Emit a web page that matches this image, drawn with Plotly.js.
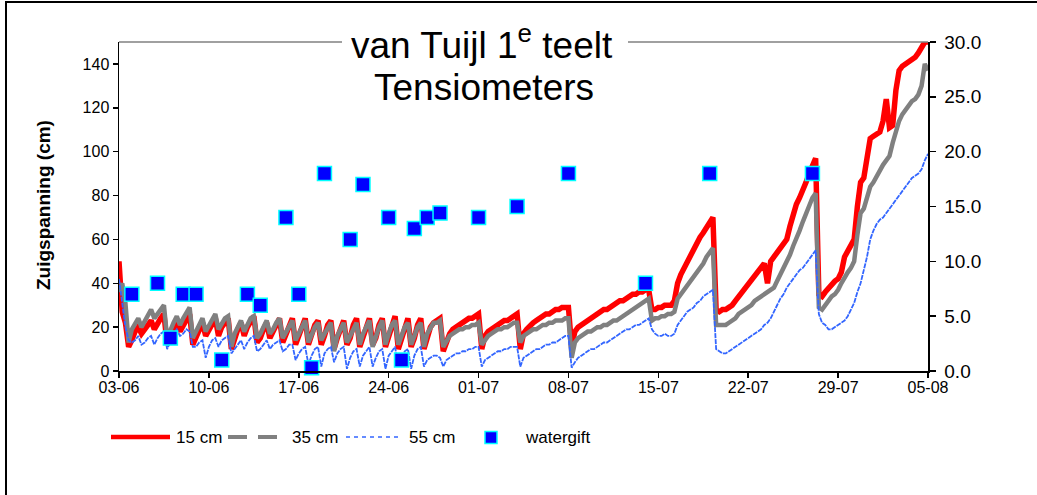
<!DOCTYPE html>
<html>
<head>
<meta charset="utf-8">
<script src="https://cdn.plot.ly/plotly-3.0.1.min.js"></script>
<style>
  html, body { margin: 0; padding: 0; background: #fff; }
  #wrap { position: relative; width: 1037px; height: 495px; overflow: hidden; }
  #chart { position: absolute; left: 0; top: 0; width: 1037px; height: 495px; }
  #frame { position: absolute; left: 5px; top: 1px; width: 1100px; height: 600px;
           border-left: 2px solid #000; border-top: 2px solid #000; pointer-events: none; }
</style>
</head>
<body>
<div id="wrap">
  <div id="chart"></div>
  <div id="frame"></div>
</div>
<script>
// Tensiometer readings (cm suction), one reading every 6 hours from 3 June 00:00
const cm15 = [
  50, 27, 22, 11,  14, 18, 20, 17,  19, 21, 23, 19,  22, 24, 26, 12,
  16, 19, 22, 18,  21, 24, 26, 12,  15, 19, 22, 16,  19, 22, 24, 16,
  20, 22, 24, 10,  15, 19, 22, 16,  20, 23, 25, 13,  15, 19, 22, 15,
  18, 22, 24, 13,  17, 21, 24, 12,  16, 20, 24, 12,  16, 21, 23, 12,
  16, 21, 23, 10,  15, 20, 23, 12,  15, 21, 24, 11,  16, 21, 24, 12,
  15, 21, 24, 11,  16, 22, 25, 10,  15, 21, 24, 11,  15, 21, 24, 10,
  16, 20, 22, 23,  24, 9, 14, 17,   19, 20, 21, 22,  23, 24, 24, 25,
  26, 10, 16, 18,  19, 20, 21, 22,  23, 23, 24, 25,  26, 10, 17, 19,
  21, 22, 23, 24,  25, 26, 26, 27,  28, 28, 29, 29,  29, 11, 18, 20,
  21, 22, 23, 24,  25, 26, 27, 28,  28, 29, 30, 31,  32, 32, 33, 34,
  35, 35, 36, 36,  37, 37, 28, 28,  29, 29, 30, 30,  30, 32, 40, 44,
  47, 50, 52, 55,  58, 61, 63, 65,  68, 70, 28, 27,  28, 28, 29, 30,
  32, 34, 36, 38,  40, 42, 44, 46,  47, 49, 40, 50,  52, 54, 56, 58,
  60, 66, 72, 76,  79, 82, 86, 90,  94, 97, 35, 34,  36, 38, 40, 41,
  42, 45, 52, 55,  58, 60, 75, 86,  88, 98, 106, 107, 108, 109, 114, 124,
  111, 112, 128, 137, 139, 140, 141, 142, 143, 145, 148, 150, 150
];
const cm35 = [
  36, 40, 31, 13,  19, 22, 24, 20,  23, 26, 28, 24,  26, 28, 30, 15,
  19, 22, 25, 21,  24, 27, 29, 15,  18, 21, 24, 18,  21, 24, 26, 19,
  22, 24, 25, 11,  17, 20, 23, 18,  21, 24, 25, 15,  17, 20, 23, 17,
  19, 22, 24, 15,  18, 21, 23, 14,  17, 20, 23, 13,  17, 20, 22, 14,
  17, 20, 22, 9,   16, 19, 22, 13,  16, 20, 22, 12,  17, 20, 23, 11,
  16, 20, 23, 12,  17, 21, 23, 12,  16, 20, 22, 12,  16, 20, 22, 11,
  17, 20, 22, 22,  23, 11, 14, 16,  17, 18, 19, 19,  20, 20, 21, 21,
  22, 12, 14, 16,  17, 18, 19, 19,  20, 20, 21, 22,  22, 13, 16, 17,
  18, 19, 19, 20,  21, 21, 22, 22,  23, 23, 23, 24,  24, 6, 13, 15,
  16, 17, 18, 18,  19, 20, 20, 21,  21, 22, 23, 23,  24, 25, 26, 27,
  28, 29, 30, 31,  32, 33, 23, 24,  24, 25, 25, 26,  26, 27, 33, 35,
  37, 39, 41, 43,  45, 47, 49, 52,  54, 56, 21, 21,  21, 21, 22, 23,
  24, 26, 27, 28,  29, 30, 32, 33,  34, 35, 36, 37,  38, 41, 44, 46,
  49, 53, 57, 60,  64, 68, 72, 76,  79, 81, 29, 28,  30, 32, 34, 35,
  37, 40, 43, 45,  47, 50, 62, 72,  74, 80, 84, 86,  89, 92, 94, 96,
  98, 104, 110, 114, 117, 119, 121, 123, 124, 126, 130, 140, 137
];
const cm55 = [
  42, 30, 20, 14,  13, 14, 16, 12,  13, 15, 16, 12,  15, 17, 18, 10,
  14, 17, 19, 16,  17, 19, 18, 11,  11, 13, 14, 6,   11, 14, 15, 11,
  14, 15, 16, 8,   10, 12, 14, 10,  13, 15, 16, 9,   10, 12, 14, 10,
  12, 13, 14, 9,   10, 12, 12, 5,   8, 10, 11, 3,    7, 10, 11, 2,
  8, 10, 11, 4,    8, 10, 11, 1,    6, 9, 10, 2,     7, 9, 11, 2,
  6, 9, 10, 1,     7, 9, 11, 2,     6, 9, 10, 1,     7, 10, 11, 2,
  5, 6, 7, 7,      6, 2, 5, 6,      7, 8, 8, 9,      9, 10, 10, 11,
  11, 2, 5, 6,     7, 8, 9, 9,      10, 10, 11, 11,  11, 2, 6, 7,
  8, 9, 10, 10,    11, 12, 12, 13,  13, 14, 15, 16,  16, 1.5, 4, 6,
  7, 8, 9, 10,     10, 11, 12, 13,  13, 14, 15, 16,  17, 18, 19, 19,
  20, 21, 21, 22,  23, 24, 19, 17,  16, 16, 17, 16,  16, 17, 21, 23,
  25, 27, 28, 29,  31, 32, 34, 35,  36, 37, 10, 9,   8, 8, 9, 10,
  11, 12, 13, 14,  15, 16, 17, 18,  19, 21, 22, 24,  27, 30, 33, 35,
  38, 40, 42, 44,  46, 47, 49, 51,  53, 55, 26, 22,  21, 19, 19, 20,
  21, 22, 23, 25,  28, 31, 36, 40,  46, 52, 60, 64,  67, 69, 70, 72,
  74, 76, 78, 80,  82, 84, 86, 88,  89, 90, 92, 96,  99
];

// Irrigation events: day number counted from 3 June, amount on the right axis
const watergiftDag = [1, 3, 4, 5, 6, 8, 10, 11, 13, 14, 15, 16, 18, 19, 21, 22, 23, 24, 25, 28, 31, 35, 41, 46, 54];
const watergift    = [7, 8, 3, 7, 7, 1, 7, 6, 14, 7, 0.3, 18, 12, 17, 14, 1, 13, 14, 14.4, 14, 15, 18, 8, 18, 18];

// Weekly date labels (dd-mm)
const tickLabels = ['03-06', '10-06', '17-06', '24-06', '01-07', '08-07', '15-07', '22-07', '29-07', '05-08'];

const READINGS_PER_DAY = 4;
const tijd = cm15.map((_, i) => i / READINGS_PER_DAY);
const tickVals = tickLabels.map((_, i) => i * 7);

const FONT = 'Arial, "Liberation Sans", sans-serif';

const traces = [
  { x: tijd, y: cm15, type: 'scatter', mode: 'lines', name: '15 cm',
    line: { color: '#ff0000', width: 5.5 }, hoverinfo: 'skip' },
  { x: tijd, y: cm35, type: 'scatter', mode: 'lines', name: '35 cm',
    line: { color: '#808080', width: 4.5 }, hoverinfo: 'skip' },
  { x: tijd, y: cm55, type: 'scatter', mode: 'lines', name: '55 cm',
    line: { color: '#3366ff', width: 1.8, dash: '5px,1px' }, hoverinfo: 'skip' },
  { x: watergiftDag, y: watergift, yaxis: 'y2', type: 'scatter', mode: 'markers', name: 'watergift',
    marker: { symbol: 'square', size: 14, color: '#0000ff', line: { color: '#00ffff', width: 1.5 } },
    cliponaxis: false }
];

// plot area: x 119..928 px, y 42..371 px
const PL = 119, PR = 928, PT = 42, PB = 371;
const px = v => (v - PL) / (PR - PL);
const py = v => (PB - v) / (PB - PT);

const legendY = py(437);
const shapes = [
  // upper frame of the plot area, open where the title sits
  { type: 'line', xref: 'paper', yref: 'paper', x0: 0, x1: px(342), y0: 1, y1: 1,
    line: { color: '#808080', width: 1.5 } },
  { type: 'line', xref: 'paper', yref: 'paper', x0: px(628), x1: 1, y0: 1, y1: 1,
    line: { color: '#808080', width: 1.5 } },
  // legend keys
  { type: 'line', xref: 'paper', yref: 'paper', x0: px(111), x1: px(170), y0: legendY, y1: legendY,
    line: { color: '#ff0000', width: 4.5 } },
  { type: 'line', xref: 'paper', yref: 'paper', x0: px(228), x1: px(277), y0: legendY, y1: legendY,
    line: { color: '#808080', width: 4, dash: '19px,11px' } },
  { type: 'line', xref: 'paper', yref: 'paper', x0: px(346), x1: px(400), y0: legendY, y1: legendY,
    line: { color: '#3366ff', width: 1.5, dash: '4px,4px' } },
  { type: 'rect', xref: 'paper', yref: 'paper', x0: px(485), x1: px(497), y0: py(443.5), y1: py(431.5),
    fillcolor: '#0000ff', line: { color: '#00ffff', width: 1.5 } }
];

const legendText = (x, text) => ({
  xref: 'paper', yref: 'paper', x: px(x), y: legendY, xanchor: 'left', yanchor: 'middle',
  text: text, showarrow: false, font: { family: FONT, size: 17, color: '#000' }
});

const annotations = [
  { xref: 'paper', yref: 'paper', x: px(482), y: py(43), xanchor: 'center', yanchor: 'middle',
    text: 'van Tuijl 1<sup>e</sup> teelt', showarrow: false,
    font: { family: FONT, size: 37, color: '#000' } },
  { xref: 'paper', yref: 'paper', x: px(484), y: py(87), xanchor: 'center', yanchor: 'middle',
    text: 'Tensiometers', showarrow: false,
    font: { family: FONT, size: 37, color: '#000' } },
  { xref: 'paper', yref: 'paper', x: px(43), y: py(205), xanchor: 'center', yanchor: 'middle',
    text: '<b>Zuigspanning (cm)</b>', textangle: -90, showarrow: false,
    font: { family: FONT, size: 19, color: '#000' } },
  legendText(174, '15 cm'),
  legendText(290, '35 cm'),
  legendText(407, '55 cm'),
  legendText(523, 'watergift')
];

const layout = {
  width: 1037, height: 495,
  margin: { l: PL, r: 1037 - PR, t: PT, b: 495 - PB, pad: 0 },
  paper_bgcolor: '#ffffff', plot_bgcolor: '#ffffff',
  showlegend: false,
  font: { family: FONT, color: '#000' },
  xaxis: {
    range: [0, 63], tickvals: tickVals, ticktext: tickLabels,
    showgrid: false, zeroline: false, showline: true, linecolor: '#000', linewidth: 1.5,
    ticks: 'outside', ticklen: 5, tickcolor: '#000', tickwidth: 1.5,
    ticklabelstandoff: -4,
    tickfont: { family: FONT, size: 16, color: '#000' }
  },
  yaxis: {
    range: [0, 150], tickvals: [0, 20, 40, 60, 80, 100, 120, 140],
    showgrid: false, zeroline: false, showline: true, linecolor: '#000', linewidth: 1.5,
    ticks: 'outside', ticklen: 5, tickcolor: '#000', tickwidth: 1.5,
    tickfont: { family: FONT, size: 16, color: '#000' }
  },
  yaxis2: {
    overlaying: 'y', side: 'right', range: [0, 30], dtick: 5, tick0: 0, tickformat: '.1f',
    showgrid: false, zeroline: false, showline: true, linecolor: '#000', linewidth: 1.5,
    ticks: 'outside', ticklen: 6, tickcolor: '#000', tickwidth: 1.5,
    ticklabelstandoff: 5,
    tickfont: { family: FONT, size: 19, color: '#000' }
  },
  shapes: shapes,
  annotations: annotations
};

Plotly.newPlot('chart', traces, layout, { staticPlot: true, displayModeBar: false });
</script>
</body>
</html>
